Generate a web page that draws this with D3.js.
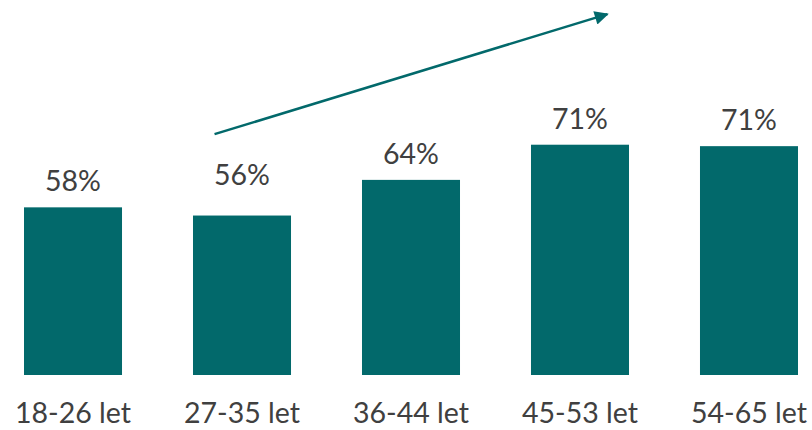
<!DOCTYPE html>
<html>
<head>
<meta charset="utf-8">
<script src="https://cdn.jsdelivr.net/npm/d3@7"></script>
<style>
  body { margin: 0; background: #fff; }
  text { font-family: Lato, "Open Sans", sans-serif; fill: #404040; }
</style>
</head>
<body>
<svg id="chart" width="812" height="430"></svg>
<script>
// age groups and share of respondents (bar heights, labels rounded)
const ageGroups = ["18-26 let", "27-35 let", "36-44 let", "45-53 let", "54-65 let"];
const shares = [58.0, 56.3, 63.7, 71.0, 70.7];

// trend arrow, given as [category, fraction across the band, value]
const arrowFrom = ["27-35 let", 0.22, 73.2];
const arrowTo = ["45-53 let", 0.78, 98.1];

function drawAgeChart(svgId) {
    const teal = "#02696b";
    const svg = d3.select("#" + svgId);

    const x = d3.scaleBand()
        .domain(ageGroups)
        .range([24, 798])
        .paddingInner(0.42)
        .paddingOuter(0);

    // value axis is not zero based in the original
    const y = d3.scaleLinear()
        .domain([23.2, 100])
        .range([375, 5]);

    const data = ageGroups.map(function(g, i) { return { group: g, value: shares[i] }; });

    svg.selectAll(".bar")
        .data(data)
        .enter().append("rect")
        .attr("class", "bar")
        .attr("x", function(d) { return x(d.group); })
        .attr("y", function(d) { return y(d.value); })
        .attr("width", x.bandwidth())
        .attr("height", function(d) { return y.range()[0] - y(d.value); })
        .attr("fill", teal);

    // value labels; the 27-35 one sits higher to clear the arrow
    svg.selectAll(".value-label")
        .data(data)
        .enter().append("text")
        .attr("class", "value-label")
        .attr("x", function(d) { return x(d.group) + x.bandwidth() / 2; })
        .attr("y", function(d) { return y(d.value) - (d.group == "27-35 let" ? 31 : 16); })
        .attr("text-anchor", "middle")
        .style("font-size", "28.5px")
        .text(function(d) { return Math.round(d.value) + "%"; });

    // category labels
    svg.selectAll(".cat-label")
        .data(ageGroups)
        .enter().append("text")
        .attr("class", "cat-label")
        .attr("x", function(d) { return x(d) + x.bandwidth() / 2; })
        .attr("y", 423)
        .attr("text-anchor", "middle")
        .style("font-size", "28.5px")
        .text(function(d) { return d; });

    svg.append("defs").append("marker")
        .attr("id", "arrowhead")
        .attr("viewBox", "0 0 10 10")
        .attr("refX", 9)
        .attr("refY", 5)
        .attr("markerUnits", "userSpaceOnUse")
        .attr("markerWidth", 18)
        .attr("markerHeight", 14)
        .attr("orient", "auto")
        .append("path")
        .attr("d", "M0,0 L10,5 L0,10 Z")
        .attr("fill", teal);

    function ax(p) { return x(p[0]) + p[1] * x.bandwidth(); }

    svg.append("line")
        .attr("x1", ax(arrowFrom))
        .attr("y1", y(arrowFrom[2]))
        .attr("x2", ax(arrowTo))
        .attr("y2", y(arrowTo[2]))
        .attr("stroke", teal)
        .attr("stroke-width", 2.5)
        .attr("marker-end", "url(#arrowhead)");
}

drawAgeChart("chart");
</script>
</body>
</html>
